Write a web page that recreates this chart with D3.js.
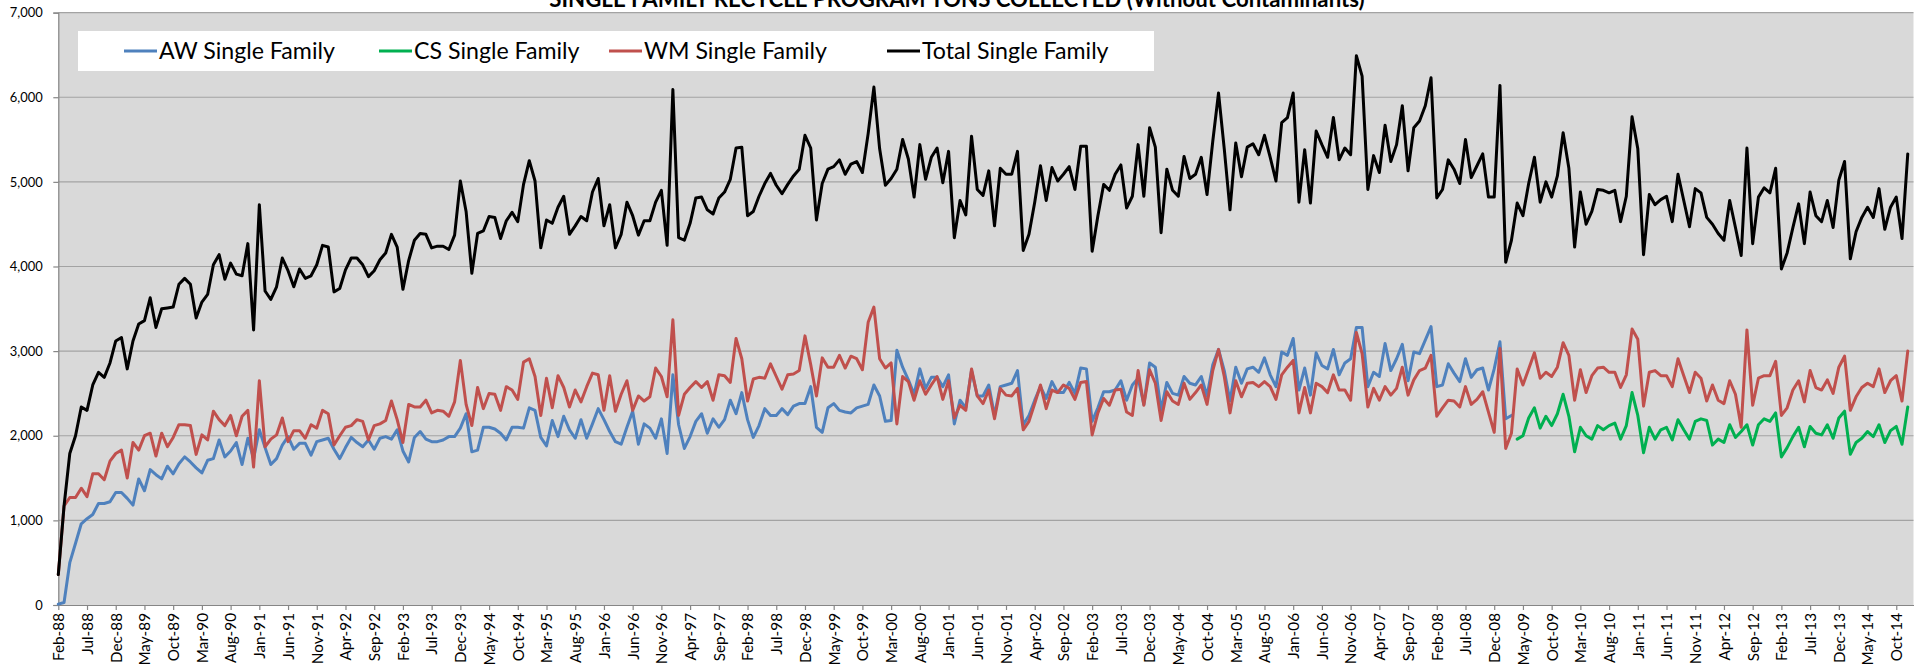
<!DOCTYPE html>
<html>
<head>
<meta charset="utf-8">
<script src="https://cdn.jsdelivr.net/npm/d3@7"></script>
<style>
  html, body { margin: 0; padding: 0; background: #ffffff; }
  svg { display: block; }
</style>
</head>
<body>
<svg id="chart" width="1925" height="665"></svg>
<script>
// ---------------- DATA ----------------
const chartTitle = "SINGLE FAMILY  RECYCLE PROGRAM TONS COLLECTED (Without Contaminants)";
const firstMonth = "Feb-88";
const lastMonth = "Jan-15";          // last category on the axis
const seriesNames = ["AW Single Family", "CS Single Family", "WM Single Family", "Total Single Family"];
const seriesColors = ["#4F81BD", "#00B050", "#C0504D", "#000000"];
const yTickValues = [0, 1000, 2000, 3000, 4000, 5000, 6000, 7000];

// AW Single Family, monthly tons from Feb-88
const awStart = "Feb-88";
const awValues = [
  10, 30, 500, 730, 960, 1020, 1070, 1200, 1200, 1220,
  1330, 1330, 1260, 1180, 1490, 1350, 1600, 1540, 1490, 1640,
  1550, 1670, 1750, 1690, 1620, 1560, 1710, 1730, 1950, 1750,
  1820, 1920, 1660, 1970, 1730, 2070, 1860, 1660, 1730, 1890,
  1990, 1840, 1910, 1910, 1770, 1930, 1950, 1970, 1840, 1730,
  1860, 1980, 1920, 1870, 1950, 1840, 1970, 1990, 1960, 2070,
  1820, 1690, 1980, 2050, 1960, 1930, 1930, 1950, 1990, 1990,
  2090, 2260, 1810, 1830, 2100, 2100, 2080, 2030, 1950, 2100,
  2100, 2090, 2330, 2300, 1980, 1880, 2180, 1990, 2230, 2070,
  1970, 2190, 1970, 2140, 2320, 2190, 2050, 1930, 1900, 2100,
  2290, 1900, 2140, 2090, 1970, 2200, 1790, 2720, 2130, 1850,
  1990, 2170, 2260, 2030, 2200, 2100, 2190, 2420, 2260, 2510,
  2190, 1980, 2120, 2320, 2240, 2240, 2320, 2250, 2350, 2380,
  2380, 2580, 2100, 2040, 2330, 2380, 2300, 2280, 2270, 2330,
  2350, 2370, 2600, 2470, 2170, 2180, 3010, 2810, 2660, 2490,
  2790, 2560, 2690, 2690, 2580, 2720, 2140, 2420, 2330, 2770,
  2470, 2470, 2600, 2240, 2580, 2600, 2620, 2770, 2130, 2240,
  2420, 2580, 2440, 2640, 2510, 2510, 2630, 2500, 2800, 2790,
  2170, 2330, 2520, 2520, 2540, 2650, 2420, 2600, 2680, 2370,
  2860, 2810, 2300, 2630, 2500, 2480, 2700, 2620, 2600, 2700,
  2470, 2840, 3020, 2770, 2410, 2810, 2620, 2790, 2810, 2750,
  2920, 2720, 2580, 2990, 2950, 3150, 2540, 2800, 2480, 2980,
  2830, 2790, 3020, 2720, 2860, 2910, 3280, 3280, 2580, 2750,
  2700, 3090, 2770, 2910, 3080, 2650, 2990, 2970, 3130, 3290,
  2580, 2600, 2850, 2740, 2640, 2910, 2690, 2780, 2800, 2540,
  2790, 3110, 2200, 2240
];

// CS Single Family, monthly tons from Apr-09
const csStart = "Apr-09";
const csValues = [
  1960, 2000, 2210, 2330, 2090, 2230, 2120, 2260, 2490, 2230,
  1810, 2100, 2000, 1960, 2120, 2070, 2120, 2150, 1960, 2120,
  2510, 2240, 1800, 2100, 1960, 2070, 2100, 1950, 2190, 2070,
  1960, 2170, 2200, 2180, 1890, 1960, 1920, 2130, 1980, 2050,
  2130, 1890, 2130, 2200, 2170, 2270, 1750, 1860, 1990, 2100,
  1870, 2110, 2030, 2010, 2130, 1970, 2210, 2290, 1780, 1920,
  1970, 2050, 1990, 2130, 1920, 2060, 2110, 1900, 2340
];

// WM Single Family, monthly tons from Feb-88
const wmStart = "Feb-88";
const wmValues = [
  360, 1170, 1270, 1270, 1380, 1280, 1550, 1550, 1480, 1700,
  1790, 1830, 1500, 1920, 1830, 2000, 2030, 1760, 2030, 1870,
  1980, 2130, 2130, 2120, 1780, 2010, 1950, 2290, 2190, 2120,
  2240, 2000, 2230, 2300, 1630, 2650, 1870, 1960, 2010, 2210,
  1930, 2060, 2060, 1970, 2130, 2090, 2300, 2260, 1890, 2000,
  2100, 2120, 2190, 2170, 1950, 2120, 2140, 2180, 2410, 2190,
  1920, 2370, 2340, 2340, 2420, 2270, 2300, 2290, 2230, 2400,
  2890, 2370, 2120, 2570, 2320, 2500, 2490, 2300, 2580, 2540,
  2430, 2870, 2910, 2700, 2240, 2680, 2330, 2710, 2570, 2340,
  2540, 2400, 2580, 2740, 2720, 2300, 2710, 2290, 2490, 2650,
  2300, 2470, 2410, 2460, 2800, 2700, 2460, 3370, 2240, 2490,
  2570, 2640, 2570, 2640, 2420, 2720, 2710, 2630, 3150, 2910,
  2410, 2670, 2690, 2680, 2850, 2700, 2550, 2720, 2730, 2770,
  3180, 2840, 2470, 2920, 2810, 2810, 2950, 2800, 2940, 2910,
  2780, 3340, 3520, 2910, 2800, 2860, 2140, 2700, 2640, 2420,
  2650, 2490, 2600, 2700, 2430, 2650, 2210, 2360, 2300, 2790,
  2470, 2380, 2540, 2200, 2560, 2480, 2470, 2560, 2070, 2170,
  2380, 2600, 2320, 2540, 2510, 2600, 2560, 2430, 2630, 2640,
  2010, 2270, 2440, 2360, 2540, 2550, 2280, 2240, 2770, 2360,
  2780, 2620, 2180, 2520, 2410, 2370, 2620, 2430, 2510, 2600,
  2370, 2770, 3020, 2700, 2270, 2650, 2460, 2620, 2630, 2580,
  2640, 2580, 2430, 2720, 2810, 2890, 2270, 2570, 2270, 2620,
  2580, 2510, 2720, 2540, 2540, 2420, 3220, 2970, 2340, 2560,
  2420, 2580, 2480, 2560, 2810, 2480, 2660, 2770, 2800, 2950,
  2230, 2330, 2420, 2410, 2340, 2580, 2370, 2430, 2520, 2280,
  2040, 3030, 1850, 2030, 2790, 2600, 2790, 2980, 2680, 2750,
  2700, 2810, 3100, 2950, 2420, 2780, 2510, 2710, 2800, 2810,
  2750, 2750, 2570, 2720, 3260, 3140, 2350, 2750, 2770, 2710,
  2710, 2580, 2910, 2710, 2510, 2750, 2680, 2410, 2600, 2420,
  2380, 2650, 2490, 2100, 3250, 2360, 2680, 2710, 2710, 2880,
  2240, 2330, 2540, 2650, 2400, 2770, 2570, 2540, 2660, 2500,
  2810, 2940, 2300, 2460, 2570, 2620, 2580, 2790, 2510, 2650,
  2710, 2410, 3000
];

// Total Single Family, monthly tons from Feb-88
const totalStart = "Feb-88";
const totalValues = [
  360, 1170, 1790, 2000, 2340, 2300, 2600, 2750, 2690, 2860,
  3120, 3160, 2790, 3120, 3320, 3360, 3630, 3280, 3500, 3510,
  3520, 3790, 3860, 3790, 3390, 3580, 3670, 4020, 4140, 3850,
  4040, 3910, 3890, 4270, 3250, 4730, 3710, 3610, 3760, 4100,
  3950, 3760, 3970, 3860, 3890, 4020, 4250, 4230, 3700, 3740,
  3960, 4100, 4100, 4020, 3880, 3950, 4080, 4160, 4380, 4230,
  3730, 4070, 4310, 4390, 4380, 4220, 4240, 4240, 4200, 4370,
  5010, 4650, 3920, 4390, 4420, 4590, 4580, 4330, 4540, 4640,
  4530, 4970, 5250, 5010, 4220, 4550, 4510, 4700, 4830, 4380,
  4480, 4590, 4540, 4880, 5040, 4480, 4730, 4220, 4380, 4760,
  4600, 4370, 4540, 4540, 4760, 4900, 4250, 6090, 4340, 4310,
  4510, 4810, 4820, 4670, 4620, 4810, 4880, 5030, 5400, 5410,
  4600, 4650, 4830, 4980, 5100, 4960, 4860, 4970, 5070, 5150,
  5550, 5400, 4550, 4980, 5150, 5180, 5260, 5090, 5210, 5240,
  5110, 5570, 6120, 5390, 4960, 5040, 5150, 5500, 5270, 4820,
  5440, 5030, 5290, 5400, 4990, 5360, 4340, 4780, 4610, 5540,
  4910, 4840, 5130, 4480, 5160, 5090, 5090, 5360, 4190, 4380,
  4760, 5190, 4780, 5170, 5010, 5090, 5180, 4910, 5420, 5420,
  4180, 4600, 4970, 4900, 5090, 5200, 4690, 4830, 5440, 4830,
  5640, 5410, 4400, 5150, 4900, 4830, 5300, 5040, 5090, 5290,
  4850, 5480, 6050, 5390, 4670, 5460, 5060, 5410, 5450, 5320,
  5550, 5290, 5010, 5700, 5760, 6050, 4760, 5380, 4750, 5600,
  5440, 5290, 5760, 5260, 5400, 5320, 6490, 6250, 4910, 5310,
  5110, 5670, 5240, 5440, 5900, 5130, 5640, 5720, 5900, 6230,
  4810, 4910, 5260, 5150, 4980, 5500, 5050, 5190, 5330, 4820,
  4820, 6140, 4050, 4310, 4750, 4600, 4980, 5290, 4760, 5000,
  4820, 5070, 5580, 5160, 4230, 4880, 4500, 4650, 4910, 4900,
  4870, 4900, 4530, 4830, 5770, 5390, 4140, 4850, 4730, 4790,
  4830, 4530, 5090, 4780, 4470, 4920, 4870, 4580, 4500, 4390,
  4310, 4780, 4460, 4130, 5400, 4270, 4820, 4930, 4870, 5160,
  3970, 4160, 4460, 4740, 4270, 4880, 4600, 4530, 4780, 4460,
  5020, 5240, 4090, 4410, 4580, 4700, 4580, 4920, 4440, 4700,
  4820, 4330, 5330
];

// ---------------- CHART ----------------
const parseMonth = d3.timeParse("%b-%y");
const fmtMonth = d3.timeFormat("%b-%y");
const categories = d3.timeMonth
  .range(parseMonth(firstMonth), d3.timeMonth.offset(parseMonth(lastMonth), 1))
  .map(fmtMonth);
const xTickLabels = categories.filter((c, i) => i % 5 === 0);

const plot = { left: 58.3, right: 1913.5, top: 12.6, bottom: 605 };
const svg = d3.select("#chart");
const FONT = "Lato, 'Open Sans', sans-serif";

const x = d3.scalePoint().domain(categories).range([plot.left, plot.right]);
const y = d3.scaleLinear().domain([0, 7000]).range([plot.bottom, plot.top]);

// plot background
svg.append("rect")
  .attr("x", plot.left).attr("y", plot.top)
  .attr("width", plot.right - plot.left).attr("height", plot.bottom - plot.top)
  .attr("fill", "#D9D9D9");

// gridlines
svg.append("g").selectAll("line")
  .data(yTickValues.filter(v => v > 0))
  .join("line")
  .attr("x1", plot.left).attr("x2", plot.right)
  .attr("y1", d => y(d)).attr("y2", d => y(d))
  .attr("stroke", "#A3A3A3").attr("stroke-width", 1.2);

// Y axis
const yAxis = d3.axisLeft(y).tickValues(yTickValues).tickSize(5)
  .tickFormat(d3.format(","));
const yAxisG = svg.append("g").attr("transform", `translate(${plot.left},0)`).call(yAxis);
yAxisG.select(".domain").attr("stroke", "#868686").attr("stroke-width", 1.2);
yAxisG.selectAll(".tick line").attr("stroke", "#868686").attr("stroke-width", 1.2);
yAxisG.selectAll(".tick text")
  .attr("font-family", FONT).attr("font-size", 14)
  .attr("fill", "#000").attr("x", -15.5);

// X axis
const xAxis = d3.axisBottom(x).tickValues(xTickLabels).tickSize(5).tickSizeOuter(0);
const xAxisG = svg.append("g").attr("transform", `translate(0,${plot.bottom})`).call(xAxis);
xAxisG.select(".domain").attr("stroke", "#868686").attr("stroke-width", 1.2);
xAxisG.selectAll(".tick line").attr("stroke", "#868686").attr("stroke-width", 1.2);
xAxisG.selectAll(".tick text")
  .attr("font-family", FONT).attr("font-size", 15.5)
  .attr("fill", "#000")
  .attr("text-anchor", "end")
  .attr("transform", "rotate(-90)")
  .attr("x", -8).attr("y", 0).attr("dy", "0.35em");

// series
function buildSeries(startLabel, values) {
  const s = categories.indexOf(startLabel);
  return values.map((v, k) => ({ cat: categories[s + k], v }));
}
const series = [
  buildSeries(awStart, awValues),
  buildSeries(csStart, csValues),
  buildSeries(wmStart, wmValues),
  buildSeries(totalStart, totalValues)
];
const line = d3.line().x(d => x(d.cat)).y(d => y(d.v)).defined(d => d.v != null);
svg.append("g").selectAll("path")
  .data(series)
  .join("path")
  .attr("d", d => line(d))
  .attr("fill", "none")
  .attr("stroke", (d, i) => seriesColors[i])
  .attr("stroke-width", 3)
  .attr("stroke-linejoin", "round")
  .attr("stroke-linecap", "round");

// legend
const legend = svg.append("g");
legend.append("rect")
  .attr("x", 78).attr("y", 31).attr("width", 1076).attr("height", 40)
  .attr("fill", "#FFFFFF");
const legendX = [124, 379, 609, 887];
const legendItems = legend.selectAll("g.item")
  .data(seriesNames)
  .join("g").attr("class", "item")
  .attr("transform", (d, i) => `translate(${legendX[i]},51)`);
legendItems.append("line")
  .attr("x1", 0).attr("x2", 33).attr("y1", 0).attr("y2", 0)
  .attr("stroke", (d, i) => seriesColors[i]).attr("stroke-width", 3);
const legendText = legendItems.append("text")
  .attr("x", 35).attr("y", 0).attr("dy", "0.36em")
  .attr("font-family", FONT).attr("font-size", 20)
  .attr("fill", "#000")
  .text(d => d);

// title (the reference shows it partly above the top edge)
const titleText = svg.append("text")
  .attr("x", 957).attr("y", 6.5)
  .attr("text-anchor", "middle")
  .attr("font-family", FONT)
  .attr("font-weight", "bold").attr("font-size", 20)
  .attr("fill", "#000")
  .text(chartTitle);

// fit font sizes to widths measured on the reference
function fitSize(sel, base, target) {
  const w = sel.node().getComputedTextLength();
  return w > 0 ? base * target / w : base;
}
titleText.attr("font-size", fitSize(titleText, 20, 816));
legendText.attr("font-size", fitSize(legendText.filter((d, i) => i === 0), 20, 176));
const ySize = fitSize(yAxisG.selectAll(".tick text").filter(d => d === 7000), 14, 33);
yAxisG.selectAll(".tick text").attr("font-size", ySize);
const xSize = fitSize(xAxisG.selectAll(".tick text").filter(d => d === "Feb-88"), 15.5, 48);
xAxisG.selectAll(".tick text").attr("font-size", xSize);
</script>
</body>
</html>
